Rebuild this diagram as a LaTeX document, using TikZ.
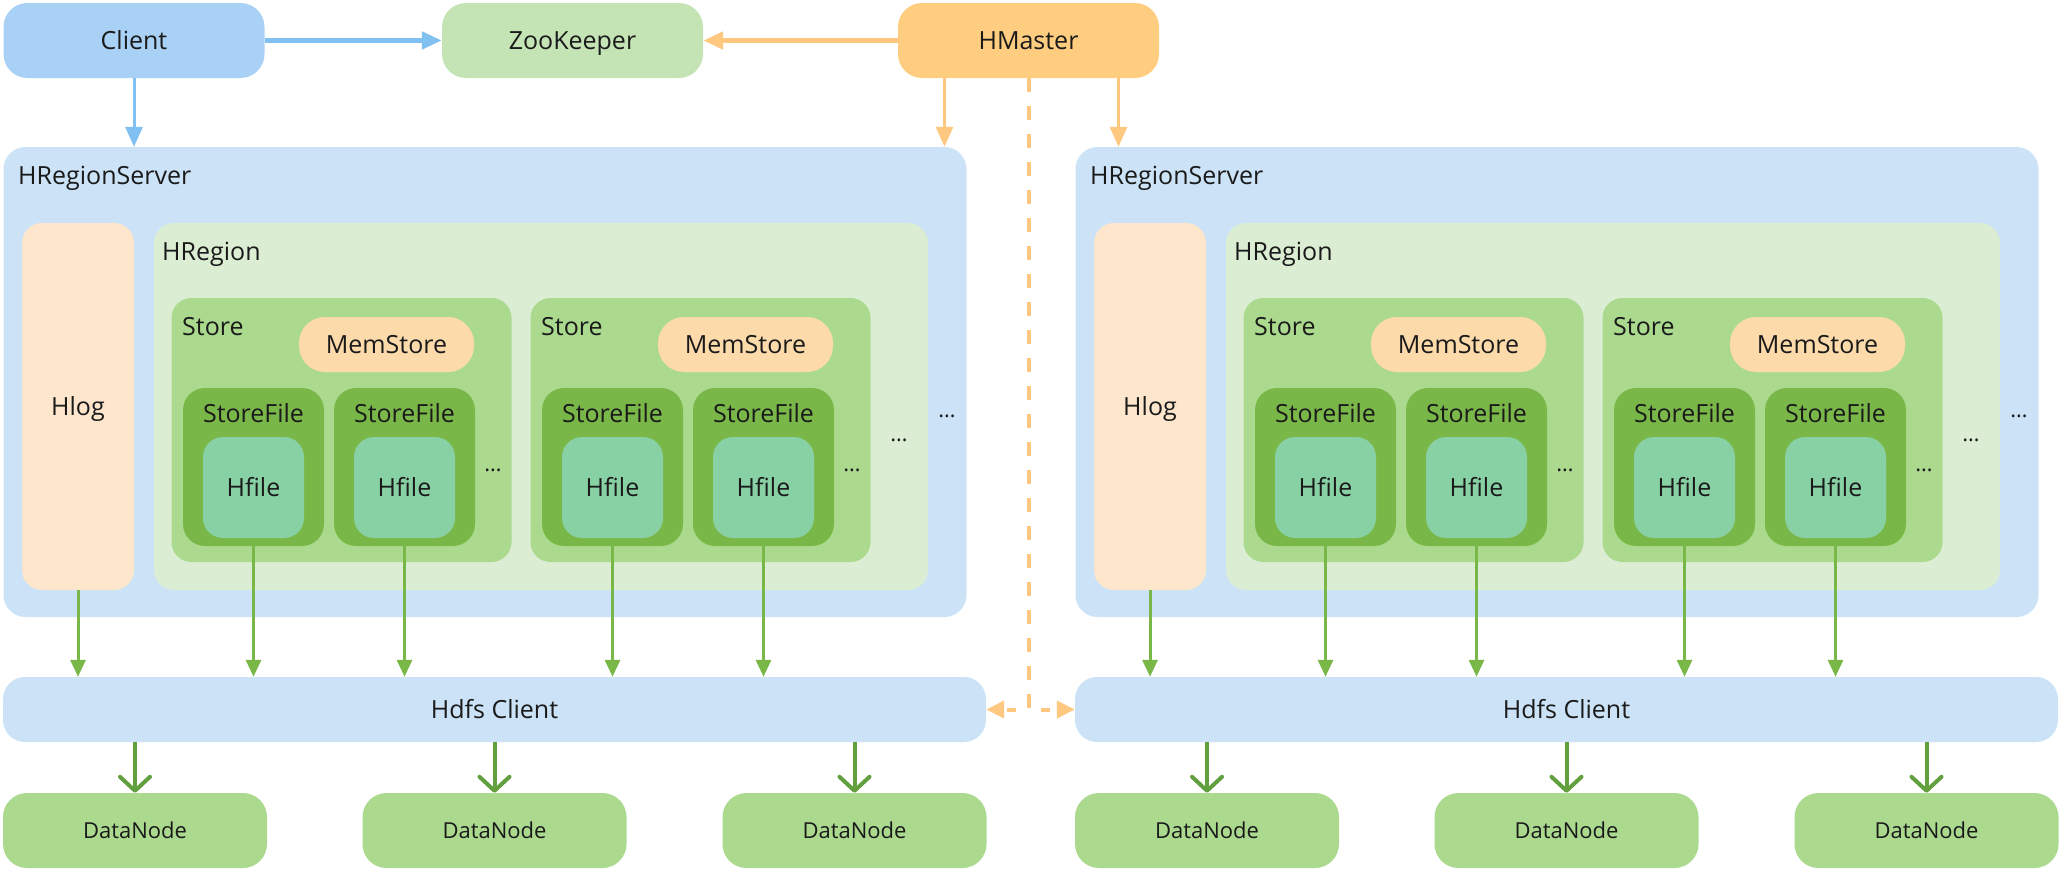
\documentclass[tikz,border=0pt]{standalone}
\usepackage{fontspec}
\setmainfont{Open Sans}
\usetikzlibrary{arrows.meta}

\definecolor{clientc}{HTML}{A9D1F5}
\definecolor{zkc}{HTML}{C5E4B6}
\definecolor{masterc}{HTML}{FFCD80}
\definecolor{serverc}{HTML}{CCE3F7}
\definecolor{hlogc}{HTML}{FEE6CC}
\definecolor{regionc}{HTML}{DBEDD2}
\definecolor{storec}{HTML}{ABDA8F}
\definecolor{memc}{HTML}{FDDAAA}
\definecolor{sfc}{HTML}{7AB749}
\definecolor{hfc}{HTML}{88D1A4}
\definecolor{bluec}{HTML}{80C1F2}
\definecolor{orangec}{HTML}{FFC880}
\definecolor{greenc}{HTML}{7AB749}
\definecolor{dngreen}{HTML}{62A03F}
\definecolor{txtc}{HTML}{1A1A1A}

\begin{document}
\begin{tikzpicture}[x=1pt,y=-1pt,
        every node/.style={inner sep=0pt,text=txtc,font=\fontsize{25}{30}\selectfont},
        lbl/.style={anchor=base west},
        txtbox/.style={text height=21pt,text depth=4pt},
        topbox/.style={txtbox,rounded corners=24pt,minimum width=261pt,minimum height=75pt},
        server/.style={fill=serverc,rounded corners=22pt,minimum width=963pt,minimum height=470pt},
        hlogbox/.style={txtbox,fill=hlogc,rounded corners=20pt,minimum width=112pt,minimum height=367pt},
        region/.style={fill=regionc,rounded corners=20pt,minimum width=774pt,minimum height=367pt},
        storebox/.style={fill=storec,rounded corners=20pt,minimum width=340pt,minimum height=264pt},
        memstore/.style={txtbox,fill=memc,rounded corners=26pt,minimum width=175pt,minimum height=55pt},
        storefile/.style={fill=sfc,rounded corners=22pt,minimum width=141pt,minimum height=158pt},
        hfile/.style={txtbox,fill=hfc,rounded corners=20pt,minimum width=101pt,minimum height=101pt},
        hdfs/.style={txtbox,fill=serverc,rounded corners=22pt,minimum width=983pt,minimum height=65pt},
        datanode/.style={fill=storec,rounded corners=24pt,minimum width=264pt,minimum height=75pt,
            text height=19pt,text depth=3.5pt,font=\fontsize{22}{26}\selectfont},
        dotsnode/.style={font=\fontsize{22}{26}\selectfont},
        bluearrow/.style={draw=bluec,line width=5pt,-{Triangle[length=20pt,width=17pt]}},
        orangearrow/.style={draw=orangec,line width=5pt,-{Triangle[length=20pt,width=17pt]}},
        greenarrow/.style={draw=greenc,line width=3pt,-{Triangle[length=17pt,width=15pt]}},
        dnarrow/.style={draw=dngreen,line width=4pt,-{Straight Barb[length=14pt,width=30pt,round]}}]
    \useasboundingbox (0,0) rectangle (2060,870);

    % top row
    \node[topbox,fill=clientc] (client) at (134,40.5) {Client};
    \node[topbox,fill=zkc] (zk) at (572.5,40.5) {ZooKeeper};
    \node[topbox,fill=masterc] (hmaster) at (1028.5,40.5) {HMaster};
    \coordinate (cross) at (1028.5,709.5);

    % the two region servers
    \foreach \s/\dx in {L/0,R/1072}{
        \node[server] (hrs\s) at ({\dx+485},382) {};
        \node[lbl] (hrsl\s) at ({\dx+18},184) {HRegionServer};
        \node[hlogbox] (hlog\s) at ({\dx+78},406.5) {Hlog};
        \node[region] (hreg\s) at ({\dx+541},406.5) {};
        \node[lbl] (hregl\s) at ({\dx+162},260) {HRegion};
        \foreach \j/\sx in {1/0,2/359}{
            \node[storebox] (st\s\j) at ({\dx+\sx+341.5},430) {};
            \node[lbl] (stl\s\j) at ({\dx+\sx+182},335) {Store};
            \node[memstore] (mem\s\j) at ({\dx+\sx+386.5},344.5) {MemStore};
            \foreach \k/\fx in {a/253.5,b/404.5}{
                \node[storefile] (sf\s\j\k) at ({\dx+\sx+\fx},467) {};
                \node[anchor=base] (sfl\s\j\k) at ({\dx+\sx+\fx},422) {StoreFile};
                \node[hfile] (hf\s\j\k) at ({\dx+\sx+\fx},487.5) {Hfile};
            }
            \node[dotsnode] (sd\s\j) at ({\dx+\sx+493},470) {…};
        }
        \node[dotsnode] (rd\s) at ({\dx+899},440) {…};
        \node[dotsnode] (vd\s) at ({\dx+947},416) {…};

        \node[hdfs] (hdfs\s) at ({\dx+494.5},709.5) {Hdfs Client};
        \foreach \n/\nx in {1/135,2/494.5,3/854.5}
            \node[datanode] (dn\s\n) at ({\dx+\nx},830.5) {DataNode};
    }

    % connectors
    \draw[bluearrow] (client.east) -- (zk.west);
    \draw[orangearrow] (hmaster.west) -- (zk.east);
    \draw[bluearrow,line width=3pt] (client.south) -- (client.south |- hrsL.north);
    \draw[orangearrow,line width=3pt] ([xshift=-84pt]hmaster.south) -- ([xshift=-84pt]hmaster.south |- hrsL.north);
    \draw[orangearrow,line width=3pt] ([xshift=90pt]hmaster.south) -- ([xshift=90pt]hmaster.south |- hrsR.north);
    \draw[orangec,line width=4pt,dash pattern=on 14pt off 14pt] (hmaster.south) -- (cross);
    \draw[orangec,line width=4pt,dash pattern=on 9pt off 25pt,dash phase=30pt,
        {Triangle[length=18pt,width=17pt]}-{Triangle[length=18pt,width=17pt]}] (hdfsL.east) -- (hdfsR.west);

    \foreach \s in {L,R}{
        \draw[greenarrow] (hlog\s.south) -- (hlog\s.south |- hdfs\s.north);
        \foreach \j in {1,2}
            \foreach \k in {a,b}
                \draw[greenarrow] (hf\s\j\k.south) -- (hf\s\j\k.south |- hdfs\s.north);
        \foreach \n in {1,2,3}
            \draw[dnarrow] (dn\s\n.north |- hdfs\s.south) -- (dn\s\n.north);
    }
\end{tikzpicture}
\end{document}
